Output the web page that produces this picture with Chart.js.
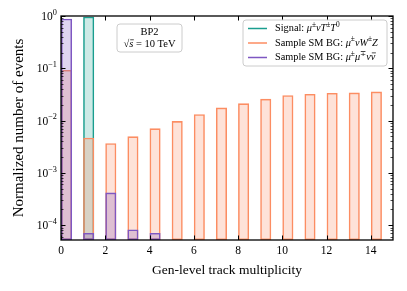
<!DOCTYPE html>
<html>
<head>
<meta charset="utf-8">
<script src="https://cdn.jsdelivr.net/npm/chart.js@4"></script>
<style>
  html, body { margin: 0; padding: 0; background: #fff; }
  canvas { display: block; }
</style>
</head>
<body>
<canvas id="chart" width="407" height="291"></canvas>
<script>
// Histogram data (normalized number of events per track multiplicity bin)
const bins = [0, 1, 2, 3, 4, 5, 6, 7, 8, 9, 10, 11, 12, 13, 14];
const binWidth = 0.5;
const signalVals = [null, 0.97, null, null, null, null, null, null, null, null, null, null, null, null, null];
const wzVals = [0.093, 4.7e-3, 3.7e-3, 5.0e-3, 7.1e-3, 9.8e-3, 1.32e-2, 1.77e-2, 2.14e-2, 2.61e-2, 3.05e-2, 3.23e-2, 3.37e-2, 3.43e-2, 3.59e-2];
const mumuVals = [0.89, 7.1e-5, 4.2e-4, 8.3e-5, 7.1e-5, null, null, null, null, null, null, null, null, null, null];

const xTicks = [0, 2, 4, 6, 8, 10, 12, 14];
const yTicks = [1e-4, 1e-3, 1e-2, 1e-1, 1];
const yTickExp = ['-4', '-3', '-2', '-1', '0'];

// legend labels as [text, style] pieces: n normal, i italic, s superscript, b italic with bar
const legendParts = [
    [['Signal: ', 'n'], ['μ', 'i'], ['±', 's'], ['νT', 'i'], ['±', 's'], ['T', 'i'], ['0', 's']],
    [['Sample SM BG: ', 'n'], ['μ', 'i'], ['±', 's'], ['νW', 'i'], ['±', 's'], ['Z', 'i']],
    [['Sample SM BG: ', 'n'], ['μ', 'i'], ['±', 's'], ['μ', 'i'], ['∓', 's'], ['ν', 'i'], ['ν', 'b']]
];

const FONT = '"Liberation Serif", "DejaVu Serif", serif';

const colors = {
    signal: '#1a9e8f',
    wz: '#fc8d62',
    mumu: '#7e57c2'
};

function toPoints(vals) {
    return bins.map((b, i) => ({ x: b + binWidth / 2, y: vals[i] }));
}

function fontFor(style, size) {
    const s = style === 's' ? size * 0.72 : size;
    const it = (style === 'i' || style === 'b') ? 'italic ' : '';
    return it + s + 'px ' + FONT;
}

function drawRich(ctx, parts, x, y, size) {
    ctx.textBaseline = 'middle';
    ctx.textAlign = 'left';
    parts.forEach(([t, style]) => {
        ctx.font = fontFor(style, size);
        const dy = style === 's' ? -size * 0.38 : 0;
        ctx.fillText(t, x, y + dy);
        const w = ctx.measureText(t).width;
        if (style === 'b') {
            ctx.save();
            ctx.lineWidth = 0.7;
            ctx.beginPath();
            ctx.moveTo(x + 1, y - size * 0.45);
            ctx.lineTo(x + w + 0.5, y - size * 0.45);
            ctx.stroke();
            ctx.restore();
        }
        x += w;
    });
    return x;
}

function richWidth(ctx, parts, size) {
    let w = 0;
    parts.forEach(([t, style]) => {
        ctx.font = fontFor(style, size);
        w += ctx.measureText(t).width;
    });
    return w;
}

function roundRect(ctx, x, y, w, h, r) {
    ctx.beginPath();
    ctx.moveTo(x + r, y);
    ctx.arcTo(x + w, y, x + w, y + h, r);
    ctx.arcTo(x + w, y + h, x, y + h, r);
    ctx.arcTo(x, y + h, x, y, r);
    ctx.arcTo(x, y, x + w, y, r);
    ctx.closePath();
}

const framePlugin = {
    id: 'frame',
    afterDatasetsDraw(chart) {
        const { ctx, chartArea: a, scales: { x, y } } = chart;
        ctx.save();
        ctx.strokeStyle = '#000';
        ctx.fillStyle = '#000';

        // inward ticks on x (bottom and top)
        ctx.lineWidth = 1;
        xTicks.forEach(v => {
            const px = Math.round(x.getPixelForValue(v)) + 0.5;
            ctx.beginPath();
            ctx.moveTo(px, a.bottom); ctx.lineTo(px, a.bottom - 4.5);
            ctx.moveTo(px, a.top); ctx.lineTo(px, a.top + 4.5);
            ctx.stroke();
        });

        // inward log ticks on y (left and right), majors and minors
        for (let d = -5; d <= 0; d++) {
            for (let m = 1; m <= 9; m++) {
                const v = m * Math.pow(10, d);
                if (v < y.min || v > y.max) continue;
                const len = m === 1 ? 4.5 : 2.5;
                ctx.lineWidth = m === 1 ? 1 : 0.7;
                const py = Math.round(y.getPixelForValue(v)) + 0.5;
                ctx.beginPath();
                ctx.moveTo(a.left, py); ctx.lineTo(a.left + len, py);
                ctx.moveTo(a.right, py); ctx.lineTo(a.right - len, py);
                ctx.stroke();
            }
        }

        // frame
        ctx.lineWidth = 1.3;
        ctx.strokeRect(a.left, a.top, a.right - a.left, a.bottom - a.top);

        // y tick labels as 10^n
        yTicks.forEach((v, i) => {
            const py = y.getPixelForValue(v);
            const parts = [['10', 'n'], [yTickExp[i].replace('-', '−'), 's']];
            const w = richWidth(ctx, parts, 11.5);
            drawRich(ctx, parts, a.left - 4 - w, py + 1, 11.5);
        });

        // info box
        const bx = a.left + 56, by = a.top + 8, bw = 65, bh = 28;
        ctx.fillStyle = 'rgba(255,255,255,0.85)';
        roundRect(ctx, bx, by, bw, bh, 3);
        ctx.fill();
        ctx.strokeStyle = '#cccccc';
        ctx.lineWidth = 1;
        ctx.stroke();
        ctx.fillStyle = '#000';
        ctx.strokeStyle = '#000';
        ctx.font = '10.5px ' + FONT;
        ctx.textAlign = 'center';
        ctx.textBaseline = 'middle';
        ctx.fillText('BP2', bx + bw / 2, by + 8);
        const line2 = [['√', 'n'], ['s', 'b'], [' = 10 TeV', 'n']];
        const w2 = richWidth(ctx, line2, 10.5);
        drawRich(ctx, line2, bx + bw / 2 - w2 / 2, by + 20.5, 10.5);

        // legend
        const lw = 144, lh = 46;
        const lx = a.right - 6 - lw, ly = a.top + 4;
        ctx.fillStyle = 'rgba(255,255,255,0.85)';
        roundRect(ctx, lx, ly, lw, lh, 3);
        ctx.fill();
        ctx.strokeStyle = '#cccccc';
        ctx.stroke();
        chart.data.datasets.forEach((ds, i) => {
            const ry = ly + 8.5 + i * 14.5;
            ctx.strokeStyle = ds.borderColor;
            ctx.lineWidth = 1.5;
            ctx.beginPath();
            ctx.moveTo(lx + 5, ry); ctx.lineTo(lx + 24, ry);
            ctx.stroke();
            ctx.fillStyle = '#000';
            ctx.strokeStyle = '#000';
            drawRich(ctx, legendParts[i], lx + 32, ry, 10.3);
        });
        ctx.restore();
    }
};

const barStyle = {
    borderWidth: 1.6,
    borderSkipped: false,
    grouped: false,
    barPercentage: binWidth,
    categoryPercentage: 1.0
};

new Chart(document.getElementById('chart'), {
    type: 'bar',
    data: {
        datasets: [
            Object.assign({
                label: 'Signal',
                data: toPoints(signalVals),
                borderColor: colors.signal,
                backgroundColor: 'rgba(26,158,143,0.22)',
                order: 3
            }, barStyle),
            Object.assign({
                label: 'Sample SM BG: WZ',
                data: toPoints(wzVals),
                borderColor: colors.wz,
                backgroundColor: 'rgba(252,141,98,0.25)',
                order: 2
            }, barStyle),
            Object.assign({
                label: 'Sample SM BG: mumununu',
                data: toPoints(mumuVals),
                borderColor: colors.mumu,
                backgroundColor: 'rgba(126,87,194,0.25)',
                order: 1
            }, barStyle)
        ]
    },
    options: {
        responsive: false,
        animation: false,
        devicePixelRatio: 1,
        layout: { padding: { top: 16, right: 14, left: 0, bottom: 0 } },
        plugins: {
            legend: { display: false },
            tooltip: { enabled: false }
        },
        scales: {
            x: {
                type: 'linear',
                min: 0,
                max: 15,
                offset: false,
                grid: { display: false, drawTicks: false },
                border: { display: false },
                afterBuildTicks: s => { s.ticks = xTicks.map(v => ({ value: v })); },
                afterFit: s => { s.height = 51; },
                ticks: {
                    padding: 4,
                    maxRotation: 0,
                    color: '#000',
                    font: { family: FONT, size: 11.5 }
                },
                title: {
                    display: true,
                    text: 'Gen-level track multiplicity',
                    color: '#000',
                    font: { family: FONT, size: 13.5 },
                    padding: { top: 0, bottom: 12 }
                }
            },
            y: {
                type: 'logarithmic',
                min: 5.2e-5,
                max: 1,
                grid: { display: false, drawTicks: false },
                border: { display: false },
                afterBuildTicks: s => { s.ticks = yTicks.map(v => ({ value: v })); },
                afterFit: s => { s.width = 61; },
                ticks: { display: false },
                title: {
                    display: true,
                    text: 'Normalized number of events',
                    color: '#000',
                    font: { family: FONT, size: 15 },
                    padding: { top: 10, bottom: 0 }
                }
            }
        }
    },
    plugins: [framePlugin]
});
</script>
</body>
</html>
